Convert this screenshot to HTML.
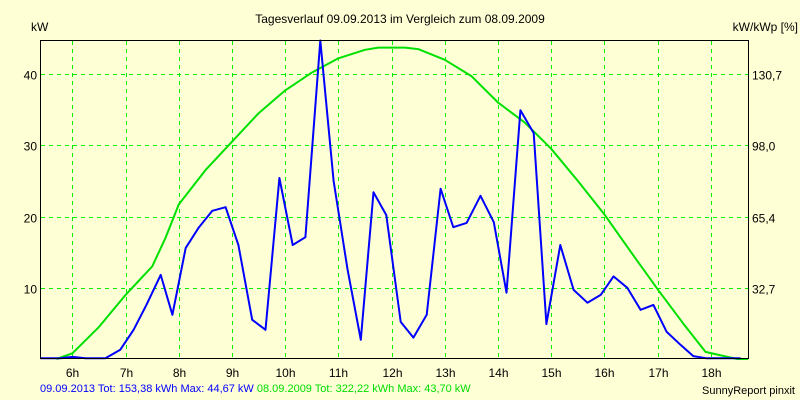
<!DOCTYPE html>
<html><head><meta charset="utf-8"><style>
body{margin:0;background:#ffffd6;}
svg{display:block;font-family:"Liberation Sans",sans-serif;}
</style></head><body>
<svg id="chart" width="800" height="400" viewBox="0 0 800 400">
<rect x="0" y="0" width="800" height="400" fill="#ffffd6"/>
<text x="400" y="23" font-size="12" text-anchor="middle" fill="#000">Tagesverlauf 09.09.2013 im Vergleich zum 08.09.2009</text>
<text x="31" y="31" font-size="12" fill="#000">kW</text>
<text x="798" y="31" font-size="12" text-anchor="end" fill="#000">kW/kWp [%]</text>
<g id="grid"></g>
<g id="series"></g>
<rect x="40.5" y="40.5" width="708" height="318" fill="none" stroke="#000" stroke-width="1"/>
<g id="labels"></g>
<text x="40" y="392" font-size="11" fill="#0000ff">09.09.2013 Tot: 153,38 kWh Max: 44,67 kW <tspan fill="#00dd00">08.09.2009 Tot: 322,22 kWh Max: 43,70 kW</tspan></text>
<text x="795" y="394" font-size="11" text-anchor="end" fill="#000">SunnyReport pinxit</text>
</svg>
<script>
const hourTicks=[6,7,8,9,10,11,12,13,14,15,16,17,18];
const yTicks=[10,20,30,40];
const yRightLabels=["32,7","65,4","98,0","130,7"];
const blueTimes=[5.40,5.78,6.00,6.25,6.62,6.90,7.15,7.39,7.66,7.88,8.13,8.37,8.63,8.88,9.12,9.38,9.63,9.89,10.14,10.38,10.66,10.91,11.17,11.42,11.66,11.90,12.17,12.41,12.66,12.92,13.16,13.41,13.67,13.92,14.16,14.42,14.67,14.91,15.17,15.42,15.68,15.93,16.17,16.43,16.68,16.92,17.17,17.43,17.67,17.92,18.56];
const blueValues=[0.1,0.1,0.3,0.1,0.1,1.3,4.1,7.6,11.8,6.2,15.6,18.4,20.8,21.3,16.0,5.5,4.1,25.4,16.0,17.1,44.7,25.0,12.6,2.7,23.4,20.2,5.2,3.0,6.2,23.9,18.5,19.1,22.9,19.2,9.3,34.9,31.7,4.9,16.0,9.7,7.9,9.0,11.6,10.0,6.9,7.6,3.8,2.0,0.4,0.1,0.1];
const greenTimes=[5.7,6.0,6.5,7.0,7.5,7.75,8.0,8.5,9.0,9.5,10.0,10.5,11.0,11.5,11.75,12.25,12.5,13.0,13.5,14.0,14.5,15.0,15.5,16.0,16.5,17.0,17.5,17.9,18.25,18.5,18.7];
const greenValues=[0,0.8,4.5,9,13,17,21.7,26.5,30.5,34.5,37.7,40.2,42.2,43.4,43.7,43.7,43.5,42.0,39.7,36.0,33.2,29.5,25,20.3,15.0,9.8,4.8,1.0,0.4,0,0];
const X0=40.5,X1=748.5,Y0=359,PXH=53.2,PXV=7.125;
const xs=h=>X0+(h-5.4)*PXH;
const ys=v=>Y0-v*PXV;
const NS="http://www.w3.org/2000/svg";
const grid=document.getElementById('grid'),ser=document.getElementById('series'),lab=document.getElementById('labels');
function mk(t,a){const e=document.createElementNS(NS,t);for(const k in a)e.setAttribute(k,a[k]);return e;}
hourTicks.forEach(h=>{
 const x=Math.round(xs(h))+0.5;
 const l=mk('line',{x1:x,x2:x,y1:41,y2:358,stroke:'#00ee00','stroke-dasharray':'4,4'});
 
 
 grid.appendChild(l);
 const t=mk('text',{x:x,y:377,'font-size':12,'text-anchor':'middle'});
 
 
 t.textContent=h+'h';lab.appendChild(t);
});
yTicks.forEach((v,i)=>{
 const y=Math.round(ys(v))+0.5;
 const l=mk('line',{x1:41,x2:748,y1:y,y2:y,stroke:'#00ee00','stroke-dasharray':'4,4'});
 
 
 grid.appendChild(l);
 const t=mk('text',{x:37,y:y+5,'font-size':12,'text-anchor':'end'});
 
 
 t.textContent=v;lab.appendChild(t);
 const r=mk('text',{x:752,y:y+5,'font-size':12});
 
 
 r.textContent=yRightLabels[i];lab.appendChild(r);
});
function line(ts,vs,col,name){
 const p=ts.map((t,i)=>xs(t).toFixed(1)+','+ys(vs[i]).toFixed(1)).join(' ');
 const e=mk('polyline',{points:p,fill:'none',stroke:col,'stroke-width':2,'stroke-linejoin':'round'});
 
 
 ser.appendChild(e);
}
line(greenTimes,greenValues,'#00e000','series-2009-line');
line(blueTimes,blueValues,'#0000ff','series-2013-line');
</script>
</body></html>
